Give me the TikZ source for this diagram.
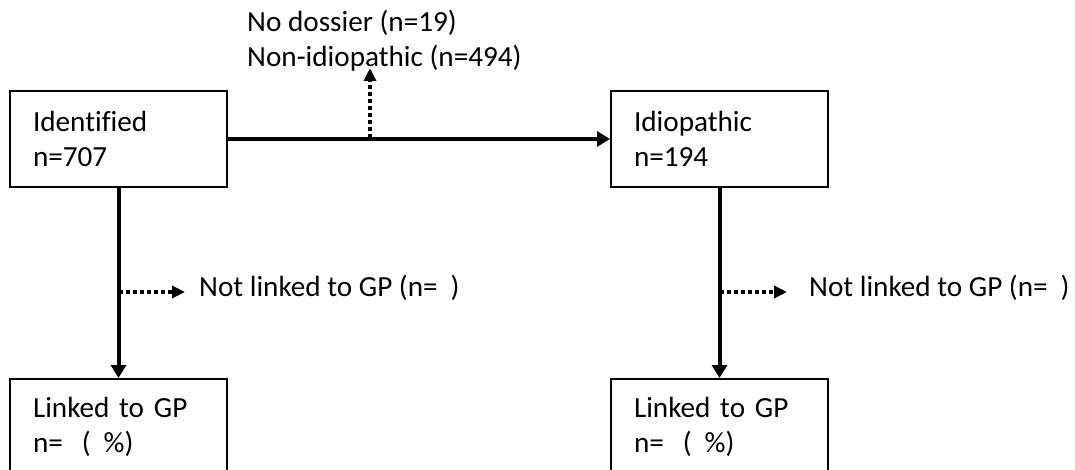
\documentclass[tikz,border=0pt]{standalone}
\usepackage{fontspec}
\setmainfont[Ligatures=NoCommon]{Carlito}
\usetikzlibrary{arrows.meta}

\begin{document}
\begin{tikzpicture}[x=1pt,y=-1pt,
  box/.style={draw,line width=2pt,minimum width=217pt,minimum height=96pt,
    text width=171pt,align=left,inner xsep=23pt,anchor=north west,
    font=\fontsize{29.2}{35}\selectfont},
  flow/.style={line width=4pt,-{Triangle[length=13pt,width=15pt]}},
  drop/.style={line width=4pt,dash pattern=on 4pt off 3pt,-{Triangle[length=13pt,width=12pt]}},
  note/.style={font=\fontsize{29.2}{35}\selectfont,inner sep=0pt,anchor=base west}]
\useasboundingbox (0,0) rectangle (1075,470);

% Boxes
\node[box] (ident) at (9,90) {Identified\\n=707};
\node[box] (idio) at (610,90) {Idiopathic\\n=194};
\node[box] (linkL) at (9,378) {Linked to GP\\n=\hspace{19pt}(\hspace{13pt}\%)};
\node[box] (linkR) at (610,378) {Linked to GP\\n=\hspace{19pt}(\hspace{13pt}\%)};

% Main flow
\draw[flow] (ident) -- (idio);
\draw[flow] (ident) -- (linkL);
\draw[flow] (idio) -- (linkR);

% Excluded before idiopathic
\node[note,align=left] (excl) at (247,67) {No dossier (n=19)\\Non-idiopathic (n=494)};
\coordinate (splitTop) at (370,138);
\coordinate (exitTip) at (370,68);
\draw[drop] (splitTop) -- (exitTip);

% Not linked to GP
\node[note] (notL) at (199,296) {Not linked to GP (n=\hspace{13pt})};
\node[note] (notR) at (809,296) {Not linked to GP (n=\hspace{13pt})};
\coordinate (splitL) at (ident.south |- 0,292);
\coordinate (splitR) at (idio.south |- 0,292);
\draw[drop] (splitL) -- ([xshift=-14pt]notL.west |- splitL);
\draw[drop] (splitR) -- ([xshift=-22pt]notR.west |- splitR);

\end{tikzpicture}
\end{document}
